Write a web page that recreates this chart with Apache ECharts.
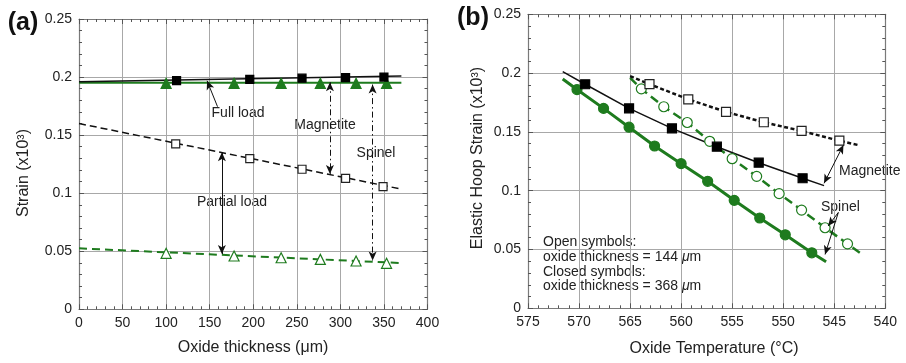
<!DOCTYPE html>
<html>
<head>
<meta charset="utf-8">
<script src="https://cdn.jsdelivr.net/npm/echarts@6/dist/echarts.min.js"></script>
<style>
  html, body { margin: 0; padding: 0; background: #fff; }
  #chart { width: 906px; height: 363px; }
</style>
</head>
<body>
<div id="chart"></div>
<script>
// ---- (a) strain vs oxide thickness ----
const thickFullMag = [112, 196, 256, 306, 350];
const strainFullMag = [0.197, 0.198, 0.199, 0.1995, 0.200];
const thickFullSpi = [100, 178, 232, 277, 318, 353];
const strainFullSpi = [0.1946, 0.1946, 0.1946, 0.1946, 0.1946, 0.1946];
const thickPartMag = [111, 196, 256, 306, 349];
const strainPartMag = [0.1424, 0.1297, 0.1206, 0.1128, 0.1056];
const thickPartSpi = [100, 178, 232, 277, 318, 353];
const strainPartSpi = [0.0482, 0.0459, 0.0444, 0.0430, 0.0416, 0.0396];

// fitted trend lines (end points, thickness 0 .. 370 um)
const fitThick = [0, 370];
const fitFullMag = [0.196, 0.201];
const fitFullSpi = [0.195, 0.195];
const fitPartMag = [0.160, 0.1035];
const fitPartSpi = [0.0525, 0.0398];

// ---- (b) elastic hoop strain vs oxide temperature ----
const tempMag368 = [569.4, 565.1, 560.9, 556.5, 552.4, 548.1];
const strainMag368 = [0.1905, 0.170, 0.153, 0.1374, 0.1238, 0.1106];
const tempMag144 = [563.1, 559.3, 555.6, 551.9, 548.2, 544.5];
const strainMag144 = [0.1906, 0.1777, 0.1670, 0.1582, 0.1508, 0.1425];
const tempSpi144 = [563.9, 561.7, 559.4, 557.2, 555.0, 552.6, 550.4, 548.2, 545.9, 543.7];
const strainSpi144 = [0.1866, 0.1714, 0.1580, 0.1420, 0.1272, 0.1122, 0.0975, 0.0835, 0.0685, 0.0548];
const tempSpi368 = [570.2, 567.6, 565.1, 562.6, 560.0, 557.4, 554.8, 552.3, 549.8, 547.2];
const strainSpi368 = [0.1860, 0.1700, 0.1540, 0.1380, 0.1230, 0.1080, 0.0918, 0.0768, 0.0625, 0.0472];

// curve ends beyond the outer measured points: [temp, strain]
const endsMag368 = [[571.6, 0.2012], [546.0, 0.1043]];
const endsMag144 = [[565.0, 0.1975], [542.7, 0.1389]];
const endsSpi144 = [[565.0, 0.1960], [542.5, 0.0473]];
const endsSpi368 = [[571.6, 0.1950], [545.8, 0.0396]];

const xTicksA = [0, 400, 50];
const xTicksB = [540, 575, 5];
const yTicks = [0, 0.25, 0.05];

const GREEN = '#1e7b1e';
const FONT = '"Liberation Sans", Arial, Helvetica, sans-serif';
const AXIS_C = '#7a7a7a';
const GRID_C = '#a8a8a8';

const pairs = (xs, ys) => xs.map((x, i) => [x, ys[i]]);
const curve = (xs, ys, ends) => [ends[0], ...pairs(xs, ys), ends[1]];

function boxAxes(grid, range, isX, inverse) {
  const base = {
    gridIndex: grid, type: 'value', min: range[0], max: range[1], interval: range[2],
    inverse: !!inverse,
    axisLine: { show: true, onZero: false, lineStyle: { color: AXIS_C, width: 1.2 } },
    axisTick: { show: true, inside: true, length: 5, lineStyle: { color: '#555' } },
    minorTick: { show: true, splitNumber: 5, length: 3, lineStyle: { color: '#555' } },
    splitLine: { show: false },
    minorSplitLine: { show: false }
  };
  const main = Object.assign({}, base, {
    position: isX ? 'bottom' : 'left',
    axisLabel: { show: true, color: '#222', fontFamily: FONT, fontSize: 14, margin: 7 },
    splitLine: { show: true, lineStyle: { color: GRID_C, width: 1 } }
  });
  const other = Object.assign({}, base, {
    position: isX ? 'top' : 'right',
    axisLabel: { show: false }
  });
  return [main, other];
}

const xAxes = [...boxAxes(0, xTicksA, true), ...boxAxes(1, xTicksB, true, true)];
const yAxes = [...boxAxes(0, yTicks, false), ...boxAxes(1, yTicks, false)];

function lineSeries(xi, yi, data, color, width, type, extra) {
  return Object.assign({
    type: 'line', xAxisIndex: xi, yAxisIndex: yi, data: data,
    showSymbol: false, symbol: 'none', silent: true,
    lineStyle: { color: color, width: width, type: type },
    z: 2
  }, extra || {});
}
function markerSeries(xi, yi, data, symbol, size, fill, stroke) {
  return {
    type: 'scatter', xAxisIndex: xi, yAxisIndex: yi, data: data,
    symbol: symbol, symbolSize: size, silent: true,
    itemStyle: { color: fill, borderColor: stroke, borderWidth: 1.2, opacity: 1 },
    z: 4
  };
}
const arrowStyle = (type) => ({ color: '#111', width: 1, type: type });
function marks(lines, symbols, type) {
  return {
    silent: true, animation: false,
    symbol: symbols, symbolSize: [6, 9],
    label: { show: false },
    lineStyle: arrowStyle(type),
    emphasis: { disabled: true },
    data: lines.map(l => [{ coord: l[0] }, { coord: l[1] }])
  };
}

const series = [
  // (a) fitted lines
  lineSeries(0, 0, pairs(fitThick, fitFullSpi), GREEN, 2, 'solid'),
  lineSeries(0, 0, pairs(fitThick, fitFullMag), '#111', 1.5, 'solid', {
    markLine: marks([[[159, 0.1745], [147, 0.1968]]], ['none', 'arrow'], 'solid')
  }),
  lineSeries(0, 0, pairs(fitThick, fitPartMag), '#111', 1.5, [7, 4], {
    markLine: marks([
      [[288, 0.1955], [288, 0.1165]],
      [[337, 0.1935], [337, 0.0420]]
    ], ['arrow', 'arrow'], [6, 3, 1.5, 3])
  }),
  lineSeries(0, 0, pairs(fitThick, fitPartSpi), GREEN, 2, [8, 5], {
    markLine: marks([[[164, 0.1352], [164, 0.0476]]], ['arrow', 'arrow'], 'solid')
  }),
  // (a) markers
  markerSeries(0, 0, pairs(thickFullSpi, strainFullSpi), 'triangle', 10, GREEN, GREEN),
  markerSeries(0, 0, pairs(thickFullMag, strainFullMag), 'rect', 8, '#000', '#000'),
  markerSeries(0, 0, pairs(thickPartMag, strainPartMag), 'rect', 8, '#fff', '#222'),
  markerSeries(0, 0, pairs(thickPartSpi, strainPartSpi), 'triangle', 10, '#fff', GREEN),

  // (b) curves
  lineSeries(2, 2, curve(tempSpi368, strainSpi368, endsSpi368), GREEN, 3, 'solid'),
  lineSeries(2, 2, curve(tempSpi144, strainSpi144, endsSpi144), GREEN, 2.5, [9, 5], {
    markLine: marks([
      [[544.6, 0.0815], [545.6, 0.0700]],
      [[544.6, 0.0815], [545.9, 0.0458]]
    ], ['none', 'arrow'], 'solid')
  }),
  lineSeries(2, 2, curve(tempMag368, strainMag368, endsMag368), '#111', 1.5, 'solid', {
    markLine: marks([[[546.0, 0.1063], [544.1, 0.1389]]], ['arrow', 'arrow'], 'solid')
  }),
  lineSeries(2, 2, curve(tempMag144, strainMag144, endsMag144), '#111', 2.5, [4, 2.5]),
  // (b) markers
  markerSeries(2, 2, pairs(tempSpi368, strainSpi368), 'circle', 10, GREEN, GREEN),
  markerSeries(2, 2, pairs(tempSpi144, strainSpi144), 'circle', 10, '#fff', GREEN),
  markerSeries(2, 2, pairs(tempMag368, strainMag368), 'rect', 9, '#000', '#000'),
  markerSeries(2, 2, pairs(tempMag144, strainMag144), 'rect', 9, '#fff', '#222')
];

const txt = (text, x, y, size, opts) => Object.assign({
  type: 'text', x: x, y: y, silent: true,
  style: Object.assign({
    text: text, fontFamily: FONT, fontSize: size, fill: '#222',
    align: 'center', verticalAlign: 'middle'
  }, (opts && opts.style) || {})
}, (opts && opts.el) || {});

const micro = { mu: { fontFamily: FONT, fontSize: 14, fontStyle: 'italic', fill: '#222' } };

const graphics = [
  txt('(a)', 23, 23, 25, { style: { fontWeight: 'bold', fill: '#111' } }),
  txt('(b)', 473, 18, 25, { style: { fontWeight: 'bold', fill: '#111' } }),
  txt('Strain (x10³)', 24, 173, 16, { el: { rotation: Math.PI / 2 } }),
  txt('Oxide thickness (μm)', 253, 348, 16),
  txt('Elastic Hoop Strain (x10³)', 478, 158, 16, { el: { rotation: Math.PI / 2 } }),
  txt('Oxide Temperature (°C)', 714, 349, 16),
  txt('Full load', 238, 113, 14),
  txt('Magnetite', 325, 125, 14),
  txt('Spinel', 376, 153, 14),
  txt('Partial load', 232, 202, 14),
  txt('Magnetite', 839, 171, 14, { style: { align: 'left' } }),
  txt('Spinel', 821, 207, 14, { style: { align: 'left' } }),
  {
    type: 'text', x: 543, y: 235, silent: true,
    style: {
      text: 'Open symbols:\noxide thickness = 144 {mu|μ}m\nClosed symbols:\noxide thickness = 368 {mu|μ}m',
      rich: micro,
      fontFamily: FONT, fontSize: 14, lineHeight: 14.7, fill: '#222',
      align: 'left', verticalAlign: 'top'
    }
  }
];

const chart = echarts.init(document.getElementById('chart'), null, { renderer: 'canvas' });
chart.setOption({
  animation: false,
  backgroundColor: '#fff',
  grid: [
    { left: 79, top: 19, width: 348.5, height: 290.3 },
    { left: 528, top: 14.3, width: 357.3, height: 294 }
  ],
  xAxis: xAxes,
  yAxis: yAxes,
  series: series,
  graphic: graphics
});
</script>
</body>
</html>
